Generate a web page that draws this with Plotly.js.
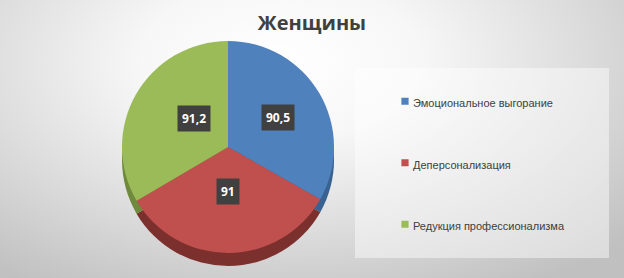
<!DOCTYPE html>
<html>
<head>
<meta charset="utf-8">
<script src="https://cdn.plot.ly/plotly-3.0.1.min.js"></script>
<style>
  html, body { margin: 0; padding: 0; }
  body {
    width: 624px; height: 278px; overflow: hidden;
    background: radial-gradient(ellipse 75% 95% at 45% 22%, #ffffff 0%, #f7f7f7 30%, #dcdcdc 65%, #c0c0c0 100%);
  }
  #chart { width: 624px; height: 278px; }
</style>
</head>
<body>
<div id="chart"></div>
<script>
// ---- data ----
const categories = ["Эмоциональное выгорание", "Деперсонализация", "Редукция профессионализма"];
const values = [90.5, 91, 91.2];
const colors = ["#4f81bd", "#c0504d", "#9bbb59"];
const sideColors = ["#3a6291", "#7b302e", "#6f8a3c"];
const chartTitle = "Женщины";

// ---- geometry (layout only) ----
const W = 624, H = 278;
const cx = 228, cy = 147, R = 106, depth = 13;
function dom(centerX, centerY, r) {
  return { x: [(centerX - r) / W, (centerX + r) / W], y: [1 - (centerY + r) / H, 1 - (centerY - r) / H] };
}

const sidePie = {
  type: "pie", values: values, labels: categories, sort: false,
  direction: "clockwise", rotation: 0, textinfo: "none", hoverinfo: "skip",
  showlegend: false, marker: { colors: sideColors, line: { width: 0 } },
  domain: dom(cx, cy + depth, R)
};
const legendLabels = categories.map(c => '<br><span style="font-size:11px">' + c + '</span><br> ');
const topPie = {
  type: "pie", values: values, labels: legendLabels, sort: false,
  direction: "clockwise", rotation: 0, textinfo: "none", hoverinfo: "skip",
  marker: { colors: colors, line: { width: 0 } },
  domain: dom(cx, cy, R)
};

// value labels placed at each slice's mid-angle
const total = values.reduce((a, b) => a + b, 0);
let cum = 0;
const annotations = values.map(v => {
  const mid = (cum + v / 2) / total * 2 * Math.PI;
  cum += v;
  const rr = R * 0.55;
  return {
    xref: "paper", yref: "paper",
    x: (cx + rr * Math.sin(mid)) / W,
    y: 1 - (cy - rr * Math.cos(mid)) / H,
    text: "<b>" + String(v).replace(".", ",") + "</b>",
    showarrow: false, bgcolor: "#404040", borderpad: 4,
    font: { family: "Open Sans, Liberation Sans, sans-serif", size: 12, color: "#ffffff" }
  };
});

const layout = {
  width: W, height: H,
  margin: { l: 0, r: 0, t: 0, b: 0 },
  paper_bgcolor: "rgba(0,0,0,0)", plot_bgcolor: "rgba(0,0,0,0)",
  title: {
    text: "<b>" + chartTitle + "</b>",
    x: 0.5, xanchor: "center", xref: "paper",
    y: 1 - 23 / H, yanchor: "middle", yref: "container",
    font: { family: "Open Sans, Liberation Sans, sans-serif", size: 20, color: "#404040" }
  },
  showlegend: true,
  legend: {
    x: 373 / W, xanchor: "left", y: 1 - 163 / H, yanchor: "middle",
    bgcolor: "rgba(0,0,0,0)", borderwidth: 0,
    font: { family: "Liberation Sans, Arial, sans-serif", size: 15, color: "#404040" },
    itemclick: false, itemdoubleclick: false
  },
  shapes: [{
    type: "rect", xref: "paper", yref: "paper", layer: "below",
    x0: 355 / W, x1: 609 / W, y0: 1 - 258 / H, y1: 1 - 68 / H,
    fillcolor: "rgba(255,255,255,0.45)", line: { width: 0 }
  }],
  annotations: annotations
};

Plotly.newPlot("chart", [sidePie, topPie], layout, { staticPlot: true, displayModeBar: false }).then(gd => {
  // smaller legend swatches, closer to the text
  gd.querySelectorAll(".legend path.legendpie").forEach(p => p.setAttribute("transform", "translate(32,0) scale(0.6)"));
});
</script>
</body>
</html>
